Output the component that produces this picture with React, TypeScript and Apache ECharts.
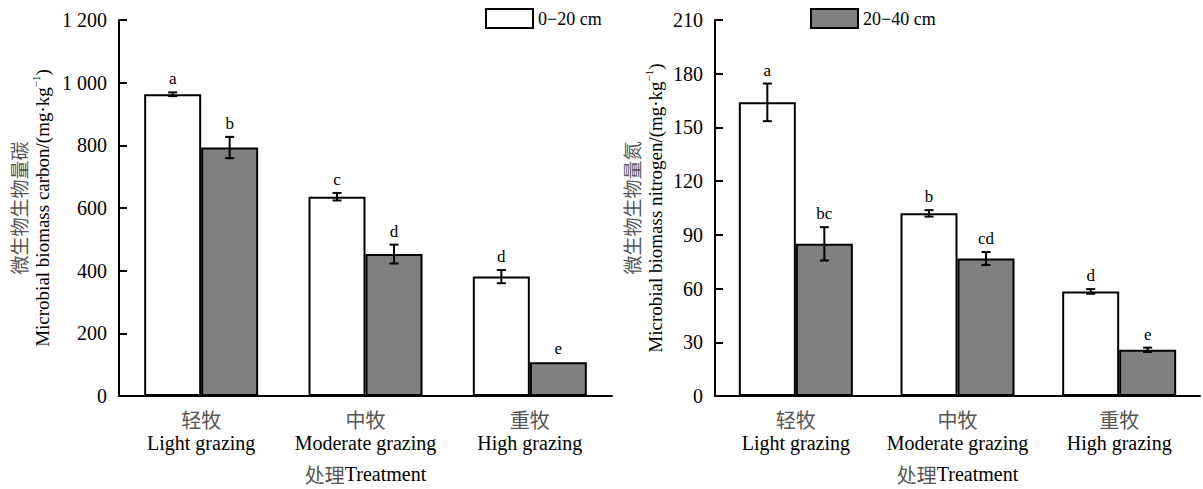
import React, { useEffect, useRef } from "react";
import * as echarts from "echarts";

const categoriesCn = ["轻牧", "中牧", "重牧"];
const categoriesEn = ["Light grazing", "Moderate grazing", "High grazing"];
const seriesNames = ["0−20 cm", "20−40 cm"];

const carbonTop = [963, 636, 381];
const carbonTopErr = [6, 12, 21];
const carbonTopLetters = ["a", "c", "d"];
const carbonSub = [793, 453, 108];
const carbonSubErr = [34, 30, 0];
const carbonSubLetters = ["b", "d", "e"];

const nitrogenTop = [164, 102, 58.4];
const nitrogenTopErr = [10.5, 1.8, 1.3];
const nitrogenTopLetters = ["a", "b", "d"];
const nitrogenSub = [85, 76.8, 25.8];
const nitrogenSubErr = [9.3, 3.6, 1.2];
const nitrogenSubLetters = ["bc", "cd", "e"];

const carbonTicks = { min: 0, max: 1200, interval: 200 };
const nitrogenTicks = { min: 0, max: 210, interval: 30 };

const SERIF = "'Liberation Serif', 'Times New Roman', 'Noto Sans CJK SC', serif";
const CJK = "'Noto Sans CJK SC', sans-serif";
const CJK_COLOR = "#555";
const BAR_W = 57;

function errSeries(values: number[], errs: number[], letters: string[], off: number, axisIdx: number) {
  return {
    type: "custom",
    xAxisIndex: axisIdx,
    yAxisIndex: axisIdx,
    z: 10,
    silent: true,
    data: values.map((v, i) => [i, v, errs[i]]),
    encode: { x: 0, y: 1 },
    renderItem: (params: any, api: any) => {
      const i = params.dataIndex;
      const cat = api.value(0);
      const v = api.value(1);
      const e = api.value(2);
      const c = api.coord([cat, v]);
      const x = c[0] + off;
      const yTop = api.coord([cat, v + e])[1];
      const yBot = api.coord([cat, v - e])[1];
      const ls = { stroke: "#000", lineWidth: 2 };
      const children: any[] = [];
      if (e > 0) {
        children.push({ type: "line", shape: { x1: x, y1: yTop, x2: x, y2: yBot }, style: ls });
        children.push({ type: "line", shape: { x1: x - 4.5, y1: yTop, x2: x + 4.5, y2: yTop }, style: ls });
        children.push({ type: "line", shape: { x1: x - 4.5, y1: yBot, x2: x + 4.5, y2: yBot }, style: ls });
      }
      children.push({
        type: "text",
        style: {
          x,
          y: Math.min(yTop, c[1]) - 5,
          text: letters[i],
          fill: "#000",
          fontSize: 17,
          fontFamily: SERIF,
          align: "center",
          verticalAlign: "bottom",
        },
      });
      return { type: "group", children };
    },
  };
}

function barSeries(name: string, values: number[], color: string, axisIdx: number) {
  return {
    type: "bar",
    name,
    xAxisIndex: axisIdx,
    yAxisIndex: axisIdx,
    data: values,
    barWidth: BAR_W,
    barGap: "0%",
    itemStyle: { color, borderColor: "#000", borderWidth: 2 },
  };
}

export default function App() {
  const ref = useRef<HTMLDivElement>(null);
  useEffect(() => {
    document.body.style.margin = "0";
    if (!ref.current) return;
    const chart = echarts.init(ref.current, null, { renderer: "svg" });
    const axisLine = { show: true, lineStyle: { color: "#000", width: 2 } };
    const catAxis = (gi: number) => ({
      type: "category",
      gridIndex: gi,
      data: categoriesCn.map((c, i) => `{cn|${c}}\n{en|${categoriesEn[i]}}`),
      axisLine,
      axisTick: { show: false },
      axisLabel: {
        margin: 12,
        interval: 0,
        formatter: (v: string) => v,
        rich: {
          cn: { fontSize: 20, fontFamily: CJK, color: CJK_COLOR, lineHeight: 23 },
          en: { fontSize: 20, fontFamily: SERIF, color: "#000", lineHeight: 23 },
        },
      },
      name: "{cn|处理}{en|Treatment}",
      nameLocation: "middle",
      nameGap: 68,
      nameTextStyle: {
        rich: {
          cn: { fontSize: 20, fontFamily: CJK, color: CJK_COLOR },
          en: { fontSize: 20, fontFamily: SERIF, color: "#000" },
        },
      },
    });
    const nameRich = {
      cn: { fontSize: 19, fontFamily: CJK, color: CJK_COLOR, lineHeight: 24 },
      en: { fontSize: 19, fontFamily: SERIF, color: "#000", lineHeight: 24 },
      sup: { fontSize: 11, fontFamily: SERIF, color: "#000", verticalAlign: "top", lineHeight: 24 },
    };
    const valAxis = (gi: number, t: any, name: string, gap: number, fmt: (v: number) => string) => ({
      type: "value",
      gridIndex: gi,
      min: t.min,
      max: t.max,
      interval: t.interval,
      axisLine,
      axisTick: { show: true, inside: true, length: 8, lineStyle: { color: "#000", width: 2 } },
      splitLine: { show: false },
      axisLabel: { margin: 12, fontSize: 20, fontFamily: SERIF, color: "#000", formatter: fmt },
      name,
      nameLocation: "middle",
      nameRotate: 90,
      nameGap: gap,
      nameTextStyle: { rich: nameRich },
    });
    const thousands = (v: number) => (v >= 1000 ? `${Math.floor(v / 1000)} ${String(v % 1000).padStart(3, "0")}` : String(v));
    chart.setOption({
      animation: false,
      grid: [
        { left: 119, right: 591, top: 20, bottom: 89, containLabel: false },
        { left: 715, right: 3, top: 20, bottom: 89, containLabel: false },
      ],
      legend: [
        {
          left: 480,
          top: 3,
          itemWidth: 47,
          itemHeight: 19,
          textStyle: { fontSize: 18, fontFamily: SERIF, color: "#000" },
          data: [{ name: seriesNames[0], icon: "rect", itemStyle: { color: "#fff", borderColor: "#000", borderWidth: 2 } }],
          selectedMode: false,
        },
        {
          left: 805,
          top: 3,
          itemWidth: 47,
          itemHeight: 19,
          textStyle: { fontSize: 18, fontFamily: SERIF, color: "#000" },
          data: [{ name: seriesNames[1], icon: "rect", itemStyle: { color: "#808080", borderColor: "#000", borderWidth: 2 } }],
          selectedMode: false,
        },
      ],
      xAxis: [catAxis(0), catAxis(1)],
      yAxis: [
        valAxis(0, carbonTicks, "{cn|微生物生物量碳}\n{en|Microbial biomass carbon/(mg·kg}{sup|−1}{en|)}", 65, thousands),
        valAxis(1, nitrogenTicks, "{cn|微生物生物量氮}\n{en|Microbial biomass nitrogen/(mg·kg}{sup|−1}{en|)}", 48, (v: number) => String(v)),
      ],
      series: [
        barSeries(seriesNames[0], carbonTop, "#ffffff", 0),
        barSeries(seriesNames[1], carbonSub, "#808080", 0),
        barSeries(seriesNames[0], nitrogenTop, "#ffffff", 1),
        barSeries(seriesNames[1], nitrogenSub, "#808080", 1),
        errSeries(carbonTop, carbonTopErr, carbonTopLetters, -BAR_W / 2, 0),
        errSeries(carbonSub, carbonSubErr, carbonSubLetters, BAR_W / 2, 0),
        errSeries(nitrogenTop, nitrogenTopErr, nitrogenTopLetters, -BAR_W / 2, 1),
        errSeries(nitrogenSub, nitrogenSubErr, nitrogenSubLetters, BAR_W / 2, 1),
      ],
    });
    return () => chart.dispose();
  }, []);
  return <div ref={ref} style={{ width: 1203, height: 489 }} />;
}
